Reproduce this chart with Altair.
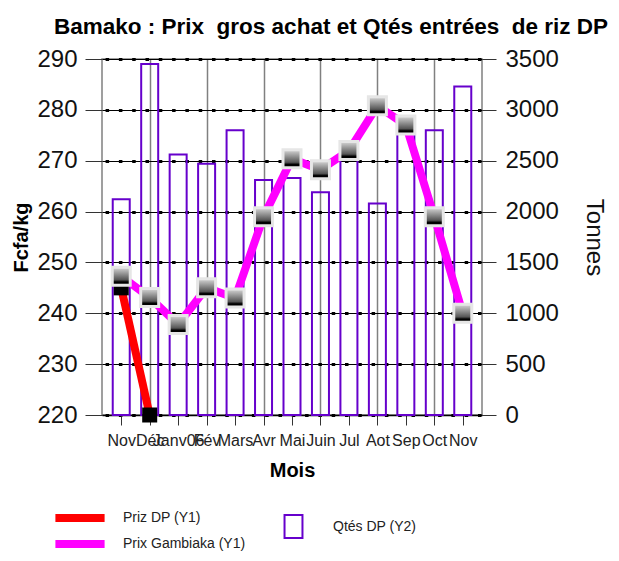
import json
import altair as alt
import pandas as pd

# ---- data ----
months = ["Nov", "Déc", "Janv06", "Fév", "Mars", "Avr", "Mai", "Juin", "Jul", "Aot", "Sep", "Oct", "Nov"]
qtes_dp = [2120, 3450, 2560, 2470, 2800, 2310, 2330, 2190, 2600, 2080, 2850, 2800, 3230]
prix_gambiaka = [247.3, 243.1, 237.8, 245, 243, 259, 270.4, 268.2, 272, 280.8, 277, 259, 240]
prix_dp = [245, 220]
y1_ticks = [220, 230, 240, 250, 260, 270, 280, 290]
y2_ticks = [0, 500, 1000, 1500, 2000, 2500, 3000, 3500]
serie_dp = "Priz DP (Y1)"
serie_gb = "Prix Gambiaka (Y1)"
serie_q = "Qtés DP (Y2)"
title_text = "Bamako : Prix \u00a0gros achat et Qtés entrées \u00a0de riz DP"

idx = list(range(len(months)))
bars_df = pd.DataFrame({"i": idx, "qtes": qtes_dp, "serie": [serie_q] * len(idx)})
lines_df = pd.concat([
    pd.DataFrame({"i": idx[:len(prix_dp)], "prix": prix_dp, "serie": [serie_dp] * len(prix_dp)}),
    pd.DataFrame({"i": idx, "prix": prix_gambiaka, "serie": [serie_gb] * len(idx)}),
], ignore_index=True)

FONT = "Liberation Sans"
label_expr = json.dumps(months, ensure_ascii=False) + "[datum.value]"

x_enc = alt.X(
    "i:Q",
    scale=alt.Scale(domain=[-0.5, len(months) - 0.5], nice=False, zero=False),
    axis=alt.Axis(
        values=idx, labelExpr=label_expr, labelOverlap=False, labelFontSize=16,
        labelPadding=7, labelColor="#222", tickSize=10, tickColor="#333",
        domainColor="#000", domainWidth=1.5,
        grid=True, gridColor="#808080", gridWidth=1.5,
        gridOpacity={"condition": {"test": "datum.value % 2 == 1", "value": 1}, "value": 0},
        title="Mois", titleFontSize=20, titleFontWeight="bold", titlePadding=12,
        titleColor="#000",
    ),
)

bars = alt.Chart(bars_df).mark_bar(filled=False, size=17, strokeWidth=2).encode(
    x=x_enc,
    y=alt.Y(
        "qtes:Q",
        scale=alt.Scale(domain=[0, 3500], nice=False),
        axis=alt.Axis(
            orient="right", values=y2_ticks, format="d", labelFontSize=24, labelPadding=9,
            labelColor="#111", tickSize=14, tickColor="#333", domain=False,
            grid=True, gridColor="#000", gridWidth=3, gridDash=[3.5, 9.8], gridDashOffset=-1,
            title="Tonnes", titleFontSize=24, titleFontWeight="normal", titlePadding=23,
            titleColor="#111",
        ),
    ),
    stroke=alt.Stroke(
        "serie:N",
        scale=alt.Scale(domain=[serie_q], range=["#6600CC"]),
        legend=alt.Legend(
            title=None, orient="none", legendX=179, legendY=455, padding=0,
            symbolType="M-0.78,-1H0.78V1H-0.78Z", symbolSize=529, symbolStrokeWidth=2,
            symbolFillColor="transparent",
            labelFontSize=14, labelOffset=27, labelColor="#222",
        ),
    ),
)

lines = alt.Chart(lines_df).mark_line(strokeWidth=8).encode(
    x=x_enc,
    y=alt.Y(
        "prix:Q",
        scale=alt.Scale(domain=[220, 290], nice=False, zero=False),
        axis=alt.Axis(
            orient="left", values=y1_ticks, labelFontSize=24, labelPadding=8,
            labelColor="#111", tickSize=17, tickColor="#333", domain=False,
            grid=True, gridColor="#000", gridWidth=1,
            title="Fcfa/kg", titleFontSize=20, titleFontWeight="bold", titlePadding=5,
            titleColor="#000",
        ),
    ),
    color=alt.Color(
        "serie:N",
        scale=alt.Scale(domain=[serie_dp, serie_gb], range=["#FF0000", "#FF00FF"]),
        sort=[serie_dp, serie_gb],
        legend=alt.Legend(
            title=None, orient="none", legendX=-32, legendY=449, padding=0,
            symbolType="M-4.1,0H4.1", symbolSize=144, symbolStrokeWidth=8,
            labelFontSize=14, labelOffset=33, labelColor="#222", rowPadding=-14,
        ),
    ),
    detail="serie:N",
)

dp_marks = alt.Chart(lines_df).transform_filter(
    alt.datum.serie == serie_dp
).mark_square(size=225, color="#000", opacity=1, filled=True).encode(
    x=x_enc, y=alt.Y("prix:Q")
)

grad = alt.LinearGradient(
    gradient="linear", x1=0, x2=0, y1=0, y2=1,
    stops=[
        alt.GradientStop(color="#d8d8d8", offset=0),
        alt.GradientStop(color="#555555", offset=0.7),
        alt.GradientStop(color="#000000", offset=0.82),
        alt.GradientStop(color="#000000", offset=1),
    ],
)
gb_marks = alt.Chart(lines_df).transform_filter(
    alt.datum.serie == serie_gb
).mark_square(size=324, fill=grad, stroke="#e6e6e6", strokeWidth=3, opacity=1, filled=True).encode(
    x=x_enc, y=alt.Y("prix:Q")
)

price_layer = alt.layer(lines, dp_marks, gb_marks)

chart = alt.layer(bars, price_layer).resolve_scale(
    y="independent", color="independent"
).properties(
    width=380, height=356,
    autosize=alt.AutoSizeParams(type="none"),
    padding={"left": 94, "top": 51, "right": 127, "bottom": 137},
    title=alt.TitleParams(
        text=title_text, fontSize=22.5, fontWeight="bold", font=FONT, color="#000",
        anchor="middle", dx=39, offset=9,
    ),
).configure(font=FONT).configure_view(
    stroke="#808080", strokeWidth=1.5
).configure_axis(labelFont=FONT, titleFont=FONT).configure_legend(labelFont=FONT)

chart.save("out.html", embed_options={"renderer": "svg", "actions": False})
